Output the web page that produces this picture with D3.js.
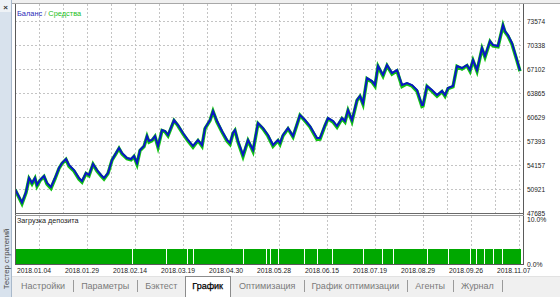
<!DOCTYPE html>
<html>
<head>
<meta charset="utf-8">
<script src="https://cdn.jsdelivr.net/npm/d3@7"></script>
<style>
  body { margin: 0; background: #f0f0f0; }
  svg { display: block; font-family: "Liberation Sans", Arial, sans-serif; }
</style>
</head>
<body>
<div id="tester"></div>
<script>
// Strategy tester - balance / equity graph

// trade number (x) and account values
const trades = [0, 4, 14, 22, 28, 34, 40, 44, 50, 58, 64, 72, 80, 88, 94, 102, 108, 118, 128, 134,
  142, 148, 156, 164, 172, 178, 186, 194, 202, 208, 214, 224, 232, 238, 244, 250, 258, 264, 268, 274,
  280, 286, 294, 300, 306, 318, 326, 336, 346, 356, 366, 374, 380, 390, 396, 404, 414, 424, 430, 436,
  440, 446, 456, 466, 476, 486, 496, 506, 516, 526, 530, 536, 546, 556, 570, 580, 590, 604, 610, 620,
  626, 636, 644, 654, 660, 666, 674, 684, 690, 696, 704, 714, 720, 726, 736, 744, 754, 764, 774, 784,
  794, 804, 814, 816, 824, 834, 844, 854, 860, 866, 876, 884, 894, 904, 910, 916, 924, 934, 940, 950,
  956, 966, 976, 980, 986, 994, 1004, 1010]

const balance = [50920, 50400, 49100, 50500, 52400, 51730, 52400, 51460, 52130, 52670, 51730, 51190, 52400, 53750, 54420, 54960, 54150, 53480, 52400, 52000,
  53080, 52810, 54290, 53480, 52810, 52400, 53080, 54830, 55770, 56450, 55770, 55100, 54960, 55370, 54420, 56180, 56720, 58060, 57390, 57530,
  58060, 56720, 58870, 58740, 58200, 60220, 59550, 58470, 57530, 56720, 57530, 56850, 59140, 60220, 61430, 60090, 58740, 57530, 57120, 58470,
  58870, 57390, 55500, 57530, 56180, 59820, 59140, 58200, 56850, 57530, 57120, 58200, 59140, 58060, 60900, 60220, 59410, 57790, 57790, 59550,
  60490, 60090, 59410, 60490, 60090, 61570, 60220, 62920, 63460, 62510, 65880, 65480, 64940, 67500, 66290, 67640, 66560, 66960, 64940, 65210,
  64940, 64270, 62240, 62240, 64810, 64270, 63590, 64130, 63590, 64540, 64810, 67500, 67230, 67640, 66960, 68310, 66960, 69930, 68850, 70870,
  70330, 70200, 73030, 72220, 71680, 70600, 68310, 66900]

const equity = [50850, 50300, 48950, 50400, 52300, 51600, 52350, 51300, 52050, 52600, 51600, 51000, 52300, 53700, 54350, 54900, 54000, 53350, 52250, 51850,
  53000, 52700, 54250, 53350, 52700, 52250, 53000, 54800, 55700, 56400, 55650, 55000, 54850, 55300, 54250, 56100, 56650, 58000, 57250, 57450,
  58000, 56550, 58800, 58650, 58100, 60150, 59450, 58350, 57400, 56550, 57450, 56700, 59050, 60150, 61400, 59950, 58600, 57400, 56950, 58400,
  58800, 57250, 55300, 57450, 56000, 59750, 59050, 58050, 56700, 57450, 56950, 58100, 59050, 57950, 60850, 60100, 59300, 57600, 57650, 59450,
  60400, 59950, 59250, 60400, 59950, 61500, 60050, 62850, 63400, 62350, 65800, 65350, 64800, 67450, 66150, 67550, 66400, 66850, 64750, 65100,
  64800, 64100, 62050, 62100, 64750, 64100, 63450, 64050, 63450, 64450, 64700, 67450, 67100, 67550, 66800, 68250, 66800, 69850, 68700, 70800,
  70200, 70100, 72950, 72100, 71550, 70450, 68200, 66800]

const yTicks = [47685, 50921, 54157, 57393, 60629, 63865, 67102, 70338, 73574]
const dateTicks = [0, 96, 192, 288, 384, 480, 576, 672, 768, 864, 960]
const dateLabels = ['2018.01.04', '2018.01.29', '2018.02.14', '2018.03.19', '2018.04.30', '2018.05.28',
  '2018.06.15', '2018.07.19', '2018.08.29', '2018.09.26', '2018.11.07']

// deposit load (%), by trade ranges
const loadFrom = [1, 235, 303, 345, 357, 457, 503, 511, 527, 579, 605, 635, 697, 735, 757, 825, 867, 911, 923, 939, 957, 975]
const loadTo = [233, 301, 343, 355, 455, 501, 509, 525, 577, 603, 633, 695, 733, 755, 823, 865, 909, 921, 937, 955, 973, 1012]
const loadPct = [3.2, 3.2, 3.2, 3.2, 3.2, 3.2, 3.2, 3.2, 3.2, 3.2, 3.2, 3.2, 3.2, 3.2, 3.2, 3.2, 3.2, 3.2, 3.2, 3.2, 3.2, 3.2]
const loadTicks = [0, 10]

const tabs = ['Настройки', 'Параметры', 'Бэктест', 'График', 'Оптимизация', 'График оптимизации', 'Агенты', 'Журнал']
const activeTab = 3

// layout
let tester = {
  width: 560,
  height: 297,
  left: 15,
  right: 523,
  top: 4,
  mainBottom: 213,
  loadTop: 216,
  loadBottom: 264,
  blue: '#0a16c4',
  green: '#12c412',
  loadGreen: '#00a800',
  grid: '#c4c4c4',
}

tester.svg = d3.select('#tester')
  .append('svg')
  .attr('width', tester.width)
  .attr('height', tester.height)

let svg = tester.svg

// background pieces
svg.append('rect').attr('x', 0).attr('y', 0).attr('width', tester.width).attr('height', tester.height).attr('fill', '#f0f0f0')
svg.append('rect').attr('x', 12).attr('y', 4).attr('width', tester.width - 12).attr('height', 272).attr('fill', '#ffffff')
svg.append('line').attr('x1', 11).attr('x2', tester.width).attr('y1', 3.5).attr('y2', 3.5).attr('stroke', '#a8a8a8')

// side bar
svg.append('rect').attr('x', 0).attr('y', 0).attr('width', 11).attr('height', tester.height).attr('fill', '#d8e2ed')
svg.append('line').attr('x1', 11.5).attr('x2', 11.5).attr('y1', 0).attr('y2', tester.height).attr('stroke', '#a9b9cb')
svg.append('rect').attr('x', 0).attr('y', 0).attr('width', 11).attr('height', 12).attr('fill', '#eef2f6')
svg.append('text').attr('x', 5.5).attr('y', 9.5).attr('text-anchor', 'middle')
  .attr('font-size', 8).attr('font-weight', 'bold').attr('fill', '#333').text('×')
svg.append('text')
  .attr('transform', 'translate(8.5,259) rotate(-90)')
  .attr('text-anchor', 'middle')
  .attr('font-size', 7.6)
  .attr('fill', '#4a4a4a')
  .text('Тестер стратегий')

// scales
let x = d3.scaleLinear().domain([0, 1016]).range([tester.left, tester.right])
let y = d3.scaleLinear().domain([yTicks[0], yTicks[yTicks.length - 1]]).range([tester.mainBottom, 21])
let yLoad = d3.scaleLinear().domain(loadTicks).range([tester.loadBottom, 217])

// grid, main panel
let gridX = d3.range(48, 1016, 48)
svg.append('g').selectAll('line')
  .data(gridX)
  .enter()
  .append('line')
  .attr('x1', (d) => Math.round(x(d)) + 0.5)
  .attr('x2', (d) => Math.round(x(d)) + 0.5)
  .attr('y1', tester.top)
  .attr('y2', tester.mainBottom)
  .attr('stroke', tester.grid)
  .attr('stroke-dasharray', '2,2')

svg.append('g').selectAll('line')
  .data(yTicks.slice(1))
  .enter()
  .append('line')
  .attr('x1', tester.left)
  .attr('x2', tester.right)
  .attr('y1', (d) => Math.round(y(d)) + 0.5)
  .attr('y2', (d) => Math.round(y(d)) + 0.5)
  .attr('stroke', tester.grid)
  .attr('stroke-dasharray', '2,2')

// grid, load panel
svg.append('g').selectAll('line')
  .data(d3.range(48, 1016, 96))
  .enter()
  .append('line')
  .attr('x1', (d) => Math.round(x(d)) + 0.5)
  .attr('x2', (d) => Math.round(x(d)) + 0.5)
  .attr('y1', tester.loadTop)
  .attr('y2', tester.loadBottom)
  .attr('stroke', tester.grid)
  .attr('stroke-dasharray', '2,2')

// balance / equity
let clip = svg.append('clipPath').attr('id', 'mainClip')
clip.append('rect').attr('x', tester.left).attr('y', tester.top)
  .attr('width', tester.right - tester.left).attr('height', tester.mainBottom - tester.top)

let lineOf = (values) => d3.line()
  .x((d, i) => x(trades[i]))
  .y((d) => y(d))(values)

svg.append('path')
  .attr('d', lineOf(equity))
  .attr('clip-path', 'url(#mainClip)')
  .attr('fill', 'none')
  .attr('stroke', tester.green)
  .attr('stroke-width', 3.4)
  .attr('stroke-linejoin', 'miter')

svg.append('path')
  .attr('d', lineOf(balance))
  .attr('clip-path', 'url(#mainClip)')
  .attr('fill', 'none')
  .attr('stroke', tester.blue)
  .attr('stroke-width', 2)
  .attr('stroke-linejoin', 'miter')

// deposit load bars
svg.append('g').selectAll('rect')
  .data(loadFrom)
  .enter()
  .append('rect')
  .attr('x', (d) => x(d))
  .attr('width', (d, i) => x(loadTo[i]) - x(d))
  .attr('y', (d, i) => yLoad(loadPct[i]))
  .attr('height', (d, i) => yLoad(0) - yLoad(loadPct[i]))
  .attr('fill', tester.loadGreen)
  .attr('shape-rendering', 'crispEdges')

// frames
let frame = svg.append('g').attr('fill', 'none').attr('shape-rendering', 'crispEdges')
frame.append('line').attr('x1', tester.left + 0.5).attr('x2', tester.left + 0.5).attr('y1', tester.top).attr('y2', tester.loadBottom + 1).attr('stroke', '#5a5a5a')
frame.append('line').attr('x1', tester.right + 0.5).attr('x2', tester.right + 0.5).attr('y1', tester.top).attr('y2', tester.loadBottom + 1).attr('stroke', '#5a5a5a')
frame.append('line').attr('x1', tester.left).attr('x2', tester.right + 1).attr('y1', tester.mainBottom + 0.5).attr('y2', tester.mainBottom + 0.5).attr('stroke', '#6a6a6a')
frame.append('line').attr('x1', tester.left).attr('x2', tester.right + 1).attr('y1', tester.mainBottom + 2.5).attr('y2', tester.mainBottom + 2.5).attr('stroke', '#9a9a9a')
frame.append('line').attr('x1', tester.left).attr('x2', tester.right + 1).attr('y1', tester.loadBottom + 0.5).attr('y2', tester.loadBottom + 0.5).attr('stroke', '#5a5a5a')

// legend
let legend = svg.append('text').attr('x', 17).attr('y', 16).attr('font-size', 7.4)
legend.append('tspan').attr('fill', '#2a2ab8').text('Баланс')
legend.append('tspan').attr('fill', '#888').text(' / ')
legend.append('tspan').attr('fill', '#19c019').text('Средства')

svg.append('text').attr('x', 17).attr('y', 223).attr('font-size', 7.2).attr('fill', '#222').text('Загрузка депозита')

// value axis
svg.append('g').selectAll('text')
  .data(yTicks)
  .enter()
  .append('text')
  .attr('x', tester.right + 4)
  .attr('y', (d) => y(d) + 3.4)
  .attr('font-size', 6.5)
  .attr('fill', '#222')
  .text((d) => d)

svg.append('g').selectAll('text')
  .data(loadTicks)
  .enter()
  .append('text')
  .attr('x', tester.right + 4)
  .attr('y', (d) => yLoad(d) + (d === 0 ? 2.5 : 5))
  .attr('font-size', 6.8)
  .attr('fill', '#222')
  .text((d) => d3.format('.1f')(d) + '%')

// date axis
svg.append('g').selectAll('text')
  .data(dateTicks)
  .enter()
  .append('text')
  .attr('x', (d) => x(d) + 2)
  .attr('y', 273)
  .attr('font-size', 6.8)
  .attr('fill', '#222')
  .text((d, i) => dateLabels[i])

// tabs
svg.append('line').attr('x1', 12).attr('x2', tester.width).attr('y1', 276.5).attr('y2', 276.5).attr('stroke', '#e2e2e2')
let tabGroup = svg.append('g').attr('font-size', 9)
let cx = 21
tabs.forEach((name, i) => {
  let isActive = i === activeTab
  if (isActive) {
    let box = tabGroup.append('rect').attr('y', 276.5).attr('height', 22).attr('fill', '#fff')
      .attr('stroke', '#8c8c8c').attr('shape-rendering', 'crispEdges')
    let t = tabGroup.append('text').attr('x', cx).attr('y', 288.5).attr('fill', '#000')
      .attr('stroke', '#000').attr('stroke-width', 0.25).text(name)
    let w = t.node().getComputedTextLength()
    box.attr('x', cx - 6.5).attr('width', w + 14)
    cx += w + 16
    return
  }
  let t = tabGroup.append('text').attr('x', cx).attr('y', 288.5).attr('fill', '#7a7a7a').text(name)
  let w = t.node().getComputedTextLength()
  if (i + 1 === activeTab) {
    cx += w + 15
  } else {
    tabGroup.append('line').attr('x1', Math.round(cx + w + 8) + 0.5).attr('x2', Math.round(cx + w + 8) + 0.5)
      .attr('y1', 280).attr('y2', 292).attr('stroke', '#9a9a9a')
    cx += w + 16
  }
})
</script>
</body>
</html>
